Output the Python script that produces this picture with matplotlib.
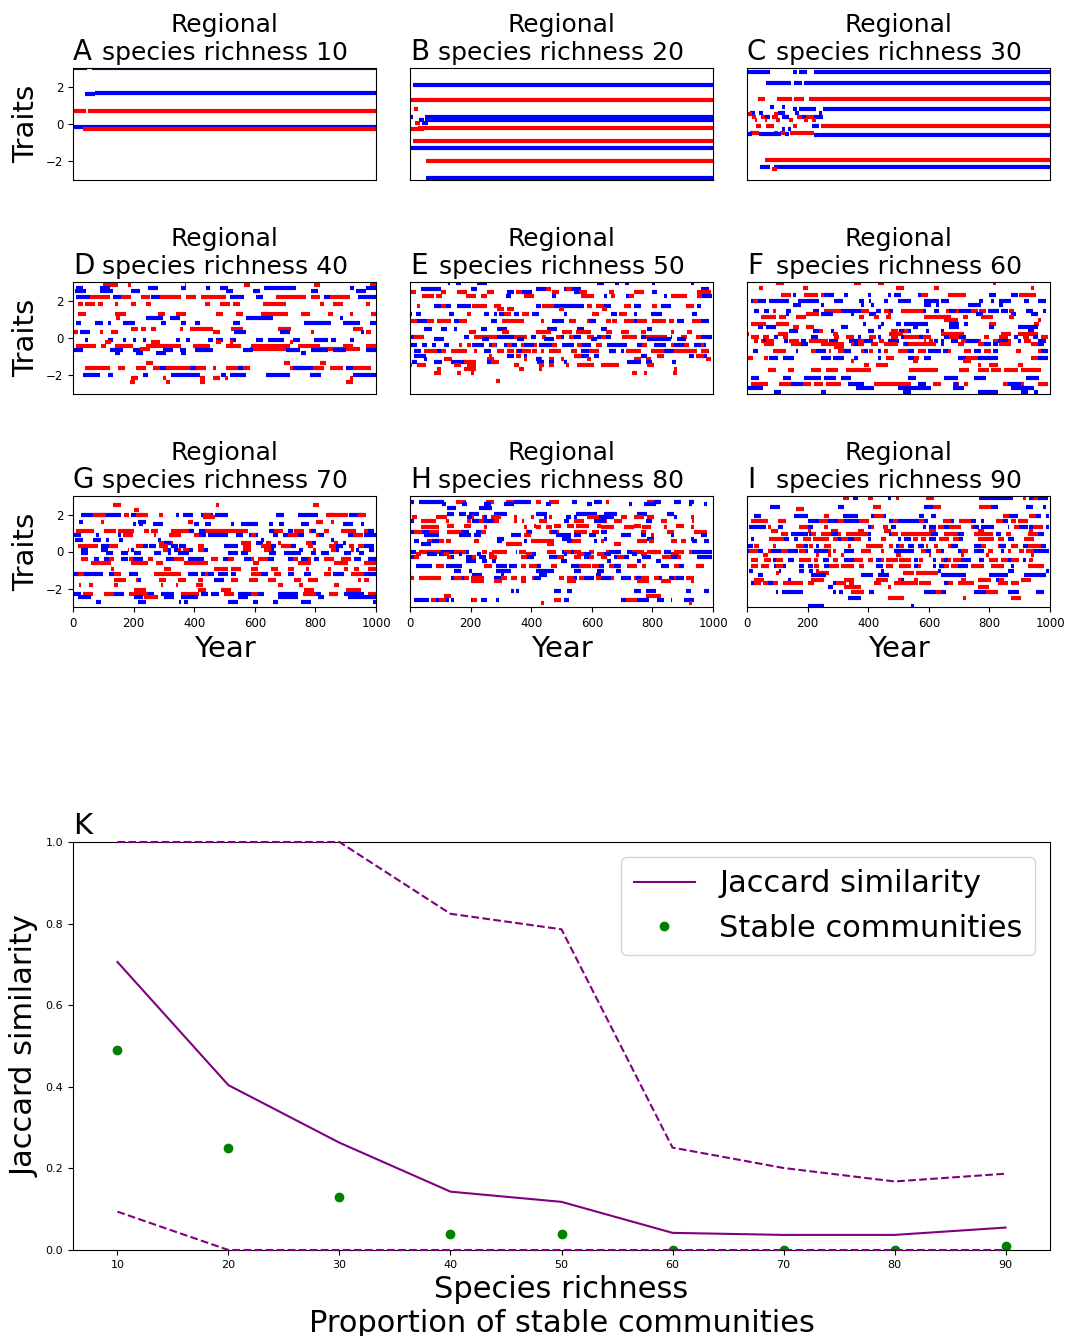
import matplotlib
matplotlib.use("Agg")
import matplotlib.pyplot as plt

plt.rcParams['font.family'] = ['DejaVu Sans']

# ---------------- data ----------------
panel_letters = ["A", "B", "C", "D", "E", "F", "G", "H", "I"]
panel_richness = [10, 20, 30, 40, 50, 60, 70, 80, 90]
year_ticks = [0, 200, 400, 600, 800, 1000]
trait_ticks = [-2, 0, 2]

# each entry: (colour, trait value, [(start year, end year), ...])
seg_A = [
    ("b", 2.99, [(0, 46), (64, 1000)]),
    ("b", 1.62, [(38, 71)]),
    ("b", 1.67, [(71, 1000)]),
    ("r", 0.70, [(0, 44), (49, 1000)]),
    ("b", -0.16, [(0, 1000)]),
    ("r", -0.27, [(33, 1000)]),
]

seg_B = [
    ("b", 2.11, [(10, 1000)]),
    ("r", 1.31, [(0, 1000)]),
    ("r", 0.82, [(14, 28)]),
    ("b", 0.40, [(0, 10), (50, 1000)]),
    ("b", 0.22, [(30, 45), (50, 1000)]),
    ("r", 0.08, [(18, 32)]),
    ("b", 0.04, [(40, 60)]),
    ("r", -0.25, [(0, 45)]),
    ("r", -0.20, [(25, 1000)]),
    ("r", -0.89, [(10, 1000)]),
    ("b", -1.28, [(0, 1000)]),
    ("r", -1.97, [(53, 1000)]),
    ("b", -2.90, [(52, 1000)]),
]

seg_C = [
    ("b", 2.79, [(0, 75), (152, 166), (173, 198), (222, 1000)]),
    ("b", 2.22, [(63, 145), (156, 180), (187, 1000)]),
    ("r", 1.35, [(37, 60), (98, 148), (156, 187), (204, 1000)]),
    ("b", 0.92, [(77, 88), (115, 125)]),
    ("b", 0.83, [(152, 166), (173, 227), (250, 1000)]),
    ("b", 0.60, [(11, 25), (39, 53), (103, 124), (159, 173), (236, 246)]),
    ("r", 0.55, [(4, 18), (89, 103)]),
    ("r", 0.39, [(15, 30), (46, 75), (82, 103), (124, 138), (166, 180), (194, 222)]),
    ("b", 0.39, [(60, 75), (117, 138), (180, 194), (222, 250)]),
    ("r", 0.21, [(25, 32), (58, 67), (96, 110), (138, 152), (187, 201), (215, 229)]),
    ("r", -0.12, [(30, 46), (63, 89), (152, 166), (243, 1000)]),
    ("b", -0.12, [(215, 236)]),
    ("b", -0.28, [(114, 124), (134, 145)]),
    ("r", -0.50, [(11, 39), (89, 103), (110, 124), (142, 222)]),
    ("b", -0.55, [(4, 18), (39, 82), (84, 112), (124, 138)]),
    ("b", -0.60, [(222, 1000)]),
    ("r", -1.92, [(60, 1000)]),
    ("b", -2.29, [(44, 75), (89, 1000)]),
    ("r", -2.42, [(82, 98)]),
]

seg_D = [
    ("r", 2.85, [(99, 148), (181, 192), (368, 374), (566, 583), (797, 814), (979, 1000)]),
    ("b", 2.70, [(11, 33), (88, 121), (247, 280), (357, 374), (440, 451), (484, 511), (632, 737), (913, 929), (968, 1000)]),
    ("b", 2.50, [(5, 44), (88, 132), (192, 220), (506, 528), (594, 616), (786, 808), (935, 968)]),
    ("r", 2.20, [(55, 121), (160, 192), (225, 253), (286, 357), (374, 407), (423, 506), (671, 770), (786, 814), (847, 913)]),
    ("b", 2.20, [(11, 55), (132, 160), (258, 286), (517, 566), (605, 627), (830, 847), (940, 1000)]),
    ("r", 1.82, [(16, 33), (38, 71), (82, 99), (137, 148), (192, 209), (242, 258), (434, 451), (484, 517), (528, 550), (627, 704), (814, 830), (858, 891), (968, 979)]),
    ("r", 1.30, [(16, 44), (137, 176), (280, 302), (341, 374), (473, 495), (539, 561), (621, 709), (753, 781), (841, 858), (913, 924), (984, 1000)]),
    ("b", 1.05, [(242, 297), (319, 352), (572, 660), (880, 891)]),
    ("r", 1.05, [(143, 154)]),
    ("b", 0.82, [(11, 27), (71, 99), (115, 126), (165, 203), (291, 308), (357, 374), (401, 418), (528, 550), (764, 852), (891, 946), (979, 1000)]),
    ("r", 0.50, [(192, 214), (225, 242), (258, 275), (352, 363), (385, 462), (522, 561), (676, 720), (924, 957)]),
    ("r", 0.30, [(2, 16), (88, 99), (126, 148), (462, 484), (786, 797), (968, 984)]),
    ("b", 0.30, [(22, 55), (533, 572), (682, 715), (951, 962)]),
    ("b", -0.10, [(38, 49), (115, 132), (165, 176), (198, 209), (231, 242), (341, 352), (374, 385), (445, 462), (473, 495), (517, 539), (605, 627), (643, 698), (726, 748), (797, 841), (852, 869), (913, 929)]),
    ("r", -0.22, [(104, 126), (258, 286), (473, 489), (517, 528), (715, 726)]),
    ("r", -0.43, [(11, 77), (93, 110), (137, 198), (242, 357), (396, 451), (506, 555), (588, 715), (742, 814), (891, 924), (968, 1000)]),
    ("r", -0.60, [(220, 253), (583, 704), (814, 946)]),
    ("b", -0.64, [(2, 33), (121, 165), (198, 220), (297, 330), (352, 374), (401, 462), (561, 594), (704, 748), (786, 841), (858, 902), (968, 1000)]),
    ("b", -0.82, [(137, 154), (209, 231), (275, 308), (357, 374), (753, 770)]),
    ("r", -1.36, [(242, 264), (698, 715), (814, 836)]),
    ("r", -1.59, [(38, 121), (148, 170), (209, 242), (264, 286), (308, 440), (462, 473), (506, 583), (715, 770), (792, 830), (847, 891), (924, 984)]),
    ("b", -1.59, [(286, 308), (385, 407), (544, 561), (726, 792), (902, 924)]),
    ("b", -1.98, [(33, 88), (115, 132), (231, 247), (324, 418), (489, 506), (517, 572), (638, 715), (781, 819), (924, 1000)]),
    ("r", -2.16, [(192, 214), (297, 308), (418, 434), (462, 484), (500, 511), (913, 924)]),
    ("r", -2.38, [(189, 203), (308, 319), (418, 434), (902, 924)]),
]

seg_E = [
    ("b", 2.95, [(124, 132), (151, 167), (222, 255), (618, 640), (678, 689), (711, 722), (800, 810), (926, 937)]),
    ("b", 2.65, [(35, 101), (200, 222), (415, 448), (508, 563), (959, 986)]),
    ("r", 2.65, [(448, 464), (514, 536)]),
    ("r", 2.47, [(2, 19), (101, 118), (156, 189), (255, 277), (349, 371), (470, 492), (558, 585), (657, 673), (739, 772), (948, 992)]),
    ("b", 2.47, [(321, 343), (371, 404), (541, 558), (800, 816)]),
    ("r", 2.26, [(41, 79), (85, 107), (184, 217), (233, 255), (376, 409), (563, 607), (662, 678), (723, 739), (860, 915), (948, 965)]),
    ("b", 2.26, [(316, 332), (470, 481), (640, 651), (712, 723), (838, 849), (965, 998)]),
    ("r", 1.72, [(22, 33), (101, 118), (206, 255), (277, 299), (437, 475), (585, 602), (613, 640), (706, 728), (800, 816), (910, 937)]),
    ("b", 1.72, [(79, 101), (118, 134), (156, 200), (415, 431), (475, 574), (640, 662), (739, 761), (827, 860), (948, 959)]),
    ("r", 1.56, [(288, 310), (321, 343), (492, 508), (635, 651)]),
    ("b", 1.26, [(2, 8), (19, 35), (129, 145), (244, 261), (277, 288), (294, 310), (343, 360), (404, 426), (508, 519), (662, 684), (739, 750), (794, 833), (932, 948)]),
    ("r", 1.26, [(189, 200), (310, 332), (371, 393), (602, 624), (690, 717)]),
    ("r", 0.92, [(2, 24), (57, 79), (90, 134), (162, 189), (305, 343), (343, 376), (431, 442), (525, 547), (585, 607), (646, 662), (668, 684), (706, 739), (750, 783), (800, 844), (855, 871), (932, 959)]),
    ("b", 0.92, [(24, 57), (145, 162), (266, 288), (470, 508), (591, 613), (739, 750), (882, 904), (959, 987)]),
    ("b", 0.48, [(46, 74), (101, 123), (145, 156), (233, 255), (288, 321), (453, 486), (552, 574), (629, 651), (783, 800)]),
    ("r", 0.30, [(195, 217), (305, 327), (415, 464), (503, 536), (547, 596), (646, 668), (695, 723), (761, 778), (860, 871), (915, 932)]),
    ("b", 0.03, [(0, 13), (178, 195), (288, 343), (398, 415), (497, 508), (541, 563), (618, 629), (646, 662), (761, 778), (860, 866), (959, 998)]),
    ("r", 0.03, [(13, 46), (211, 288), (343, 387), (437, 448), (481, 497), (525, 541), (585, 607), (629, 646), (701, 750), (778, 849), (893, 915), (943, 959)]),
    ("b", -0.07, [(79, 112), (239, 261), (354, 376), (442, 475), (596, 618), (783, 860), (882, 910)]),
    ("b", -0.37, [(0, 24), (41, 57), (74, 85), (112, 129), (206, 244), (261, 288), (310, 354), (376, 409), (426, 475), (503, 541), (563, 596), (651, 717), (750, 783), (805, 844), (866, 915), (937, 976)]),
    ("r", -0.37, [(162, 173), (189, 200), (272, 283), (321, 338), (365, 376), (409, 420), (470, 486), (552, 569), (613, 635), (767, 783), (860, 871), (904, 921), (959, 970)]),
    ("r", -0.67, [(46, 90), (96, 118), (134, 156), (156, 189), (211, 222), (288, 310), (321, 343), (349, 398), (404, 420), (431, 442), (459, 497), (530, 552), (591, 624), (657, 679), (712, 761), (794, 860), (871, 948), (959, 987)]),
    ("b", -0.67, [(13, 35), (90, 101), (244, 266), (354, 371), (563, 591), (657, 679), (695, 706), (838, 871)]),
    ("b", -0.96, [(13, 52), (321, 343), (376, 387), (541, 591), (607, 624), (761, 783), (921, 937), (954, 981)]),
    ("r", -0.96, [(261, 272), (349, 365), (541, 563), (816, 838), (943, 970)]),
    ("r", -1.12, [(112, 140), (255, 277), (376, 387), (415, 437), (459, 475), (497, 508), (585, 596), (739, 761), (778, 794), (976, 992)]),
    ("b", -1.12, [(46, 57), (415, 431)]),
    ("b", -1.31, [(8, 24), (79, 107), (134, 184), (255, 277), (420, 442), (459, 475), (508, 519), (717, 761), (778, 800), (866, 877)]),
    ("r", -1.31, [(178, 217), (266, 294)]),
    ("r", -1.44, [(0, 8), (24, 52), (145, 167), (189, 217), (343, 360), (426, 442), (459, 475), (514, 525), (552, 607), (629, 690), (783, 805)]),
    ("r", -1.67, [(90, 101), (178, 217), (360, 376), (426, 437), (871, 880)]),
    ("r", -1.88, [(79, 101), (156, 167), (200, 211), (734, 750), (772, 783), (869, 880)]),
    ("r", -2.33, [(283, 297)]),
]

seg_F = [
    ("r", 2.95, [(96, 123), (354, 376), (431, 453), (811, 822)]),
    ("r", 2.70, [(41, 52), (184, 200), (492, 519), (618, 635), (937, 948)]),
    ("r", 2.33, [(112, 145), (189, 233), (244, 261), (574, 596), (662, 723), (899, 954)]),
    ("b", 2.33, [(151, 162), (255, 288), (321, 332), (398, 409), (464, 475), (486, 508), (563, 574), (800, 822), (871, 893)]),
    ("b", 2.00, [(13, 63), (74, 140), (167, 239), (288, 316), (371, 387), (404, 409), (453, 464), (497, 541), (585, 635), (640, 668), (767, 778), (805, 816), (833, 871), (915, 932), (959, 987)]),
    ("r", 2.00, [(19, 35)]),
    ("b", 1.79, [(151, 178), (244, 255), (376, 387), (409, 420), (585, 607), (624, 635), (728, 772), (833, 844)]),
    ("r", 1.44, [(85, 96), (255, 310), (376, 404), (453, 475), (508, 580), (657, 668), (690, 701), (739, 761), (767, 789), (866, 882)]),
    ("b", 1.44, [(24, 41), (57, 74), (129, 145), (217, 239), (310, 376), (426, 442), (470, 481), (580, 591), (618, 635), (668, 690), (701, 739), (794, 833), (838, 860), (921, 943), (976, 987)]),
    ("b", 1.26, [(129, 140), (244, 283), (343, 354), (404, 426), (756, 778), (871, 888), (937, 959)]),
    ("r", 1.26, [(195, 239), (464, 475)]),
    ("r", 1.14, [(46, 68), (68, 96), (107, 129), (162, 195), (371, 387), (420, 437), (459, 475), (585, 673), (712, 728), (772, 811), (866, 882)]),
    ("r", 0.96, [(651, 695), (959, 970)]),
    ("r", 0.76, [(13, 35), (35, 63), (96, 140), (800, 822), (948, 965)]),
    ("b", 0.76, [(382, 393), (442, 453), (492, 508), (519, 596), (668, 701), (717, 728)]),
    ("b", 0.59, [(35, 52), (63, 96), (310, 332), (431, 442), (547, 563), (668, 701), (800, 816), (893, 959)]),
    ("r", 0.59, [(151, 173), (195, 222)]),
    ("b", 0.37, [(140, 167), (217, 239), (277, 288), (398, 420), (503, 541), (591, 602), (640, 651), (926, 948)]),
    ("r", 0.37, [(239, 250), (475, 497), (519, 530)]),
    ("r", 0.20, [(2, 8), (101, 134), (283, 299), (470, 514), (640, 673), (673, 717), (838, 871), (893, 959)]),
    ("r", 0.04, [(13, 41), (52, 74), (118, 134), (288, 305), (327, 354), (404, 426), (475, 497), (519, 607), (662, 701), (783, 800), (833, 860), (910, 932), (970, 992)]),
    ("b", 0.04, [(90, 101), (211, 233), (365, 376), (431, 442), (508, 519), (569, 580), (651, 668), (701, 723), (882, 893), (943, 959)]),
    ("r", -0.16, [(24, 35), (46, 90), (140, 173), (206, 266), (343, 387), (437, 453), (585, 591), (602, 613), (706, 723), (761, 772), (811, 827), (855, 871), (915, 937)]),
    ("b", -0.16, [(52, 63), (123, 134), (178, 195), (272, 299), (338, 365), (387, 415), (464, 503), (618, 629), (640, 651), (673, 695), (723, 767), (827, 860), (893, 904), (959, 987)]),
    ("r", -0.32, [(57, 90), (145, 184), (244, 321), (343, 354), (365, 387), (409, 431), (453, 497), (514, 624), (695, 717), (761, 789), (833, 871), (937, 959)]),
    ("b", -0.32, [(178, 200), (354, 365), (519, 530), (640, 651), (783, 805), (811, 827), (959, 981)]),
    ("r", -0.48, [(288, 321)]),
    ("r", -0.71, [(85, 129), (211, 228), (272, 277), (299, 343), (376, 387), (404, 415), (453, 464), (497, 530), (563, 591), (662, 673), (717, 739), (783, 805), (888, 904), (959, 987)]),
    ("b", -0.71, [(19, 35), (162, 167), (228, 261), (321, 343), (387, 398), (431, 442), (530, 552), (596, 640), (646, 662), (750, 772), (811, 827), (970, 992)]),
    ("b", -1.05, [(74, 101), (118, 156), (244, 277), (283, 321), (354, 365), (431, 442), (530, 552), (585, 607), (695, 723), (761, 783), (783, 827), (959, 992)]),
    ("r", -1.05, [(2, 19), (57, 68), (459, 486), (552, 569), (723, 761), (937, 959)]),
    ("r", -1.21, [(343, 354), (547, 563), (712, 739)]),
    ("r", -1.46, [(387, 404), (426, 464), (761, 772), (800, 827), (893, 910)]),
    ("r", -1.71, [(68, 96), (134, 156), (211, 244), (261, 299), (327, 409), (536, 629), (701, 734), (761, 800), (805, 838), (849, 893), (904, 970)]),
    ("b", -2.15, [(13, 41), (118, 145), (189, 244), (255, 294), (310, 343), (530, 558), (651, 695), (750, 789), (921, 965)]),
    ("r", -2.47, [(13, 68), (107, 129), (129, 145), (184, 211), (222, 250), (261, 310), (420, 541), (613, 640), (679, 701), (717, 728), (844, 860), (904, 915), (959, 992)]),
    ("b", -2.47, [(145, 184), (332, 387), (563, 591), (684, 695), (860, 904)]),
    ("b", -2.68, [(0, 52), (360, 420), (497, 607), (679, 717), (871, 948)]),
    ("b", -2.90, [(90, 112), (244, 261), (514, 541), (761, 827), (904, 926), (948, 959)]),
]

seg_G = [
    ("r", 2.54, [(131, 159), (472, 483), (791, 813)]),
    ("r", 2.24, [(202, 219)]),
    ("b", 1.95, [(26, 158), (191, 230), (340, 351), (362, 395), (422, 461), (467, 511), (670, 697), (741, 807), (840, 862), (912, 956)]),
    ("r", 1.95, [(65, 109), (169, 186), (208, 246), (285, 296), (428, 455), (835, 906), (939, 967)]),
    ("r", 1.85, [(428, 467)]),
    ("r", 1.58, [(92, 103), (378, 395), (802, 824), (851, 862)]),
    ("b", 1.58, [(21, 32), (214, 241)]),
    ("b", 1.46, [(197, 208), (219, 230), (263, 296), (400, 417), (434, 455), (521, 532), (554, 609), (648, 659), (681, 697), (752, 780), (890, 923), (951, 962)]),
    ("r", 1.12, [(10, 70), (103, 142), (147, 202), (235, 252), (257, 280), (323, 367), (367, 395), (434, 521), (521, 576), (659, 692), (730, 763), (780, 796), (829, 846), (884, 934), (961, 983)]),
    ("b", 1.12, [(384, 400), (417, 434), (648, 665), (708, 725), (785, 802), (972, 994)]),
    ("b", 0.89, [(2, 26), (76, 87), (147, 158), (180, 191), (323, 340), (417, 439), (445, 511), (538, 560), (582, 609), (659, 676), (692, 719), (741, 763), (807, 829), (906, 945), (961, 1000)]),
    ("r", 0.89, [(164, 197), (268, 274), (318, 356), (400, 417), (587, 604), (708, 741), (802, 813), (923, 956)]),
    ("b", 0.60, [(6, 32), (65, 92), (109, 120), (153, 164), (280, 290), (620, 631), (851, 862)]),
    ("r", 0.48, [(285, 329), (554, 587), (637, 653), (675, 686), (769, 791), (862, 873)]),
    ("b", 0.48, [(301, 323), (604, 626), (790, 801), (890, 901)]),
    ("r", 0.28, [(15, 37), (37, 59), (59, 81), (120, 147), (208, 230), (285, 312), (411, 433), (560, 587), (620, 653), (686, 719), (774, 791), (846, 868), (912, 928), (939, 961)]),
    ("b", 0.28, [(92, 120), (230, 246), (252, 274), (323, 345), (351, 373), (499, 543), (653, 670), (719, 736), (868, 890), (961, 994)]),
    ("r", 0.10, [(180, 186), (296, 312), (345, 356), (362, 384), (411, 433), (560, 587), (631, 653), (791, 802), (851, 868), (917, 928)]),
    ("b", 0.10, [(26, 48), (92, 114), (191, 202), (312, 323), (334, 345), (384, 395), (433, 444), (653, 665), (747, 758), (868, 879), (934, 945), (978, 994)]),
    ("b", -0.07, [(26, 48), (109, 131), (158, 180), (202, 224), (268, 290), (312, 323), (345, 384), (510, 543), (554, 576), (648, 670), (697, 719), (719, 752), (785, 802), (818, 846), (895, 917), (945, 961)]),
    ("b", -0.43, [(70, 87), (103, 120), (158, 180), (197, 230), (307, 334), (378, 433), (494, 511), (565, 587), (642, 665), (708, 725), (752, 774), (796, 813), (928, 950), (972, 1000)]),
    ("r", -0.43, [(26, 48), (120, 136), (186, 197), (246, 263), (334, 367), (455, 477), (511, 532), (587, 598), (609, 642), (725, 741), (774, 785), (829, 862), (884, 917)]),
    ("r", -0.64, [(59, 125), (191, 246), (274, 296), (367, 444), (593, 615), (741, 785), (862, 906), (961, 1000)]),
    ("r", -0.96, [(125, 136), (301, 323), (466, 510), (521, 554), (587, 609), (653, 675), (708, 730), (769, 780), (840, 851), (895, 906), (928, 945), (972, 1000)]),
    ("b", -1.20, [(2, 26), (37, 65), (65, 98), (120, 136), (186, 214), (378, 411), (422, 466), (477, 510), (521, 538), (620, 642), (708, 730), (763, 785), (857, 895), (961, 1000)]),
    ("r", -1.20, [(15, 37), (136, 158), (268, 296), (296, 356), (434, 444), (587, 620), (664, 686), (829, 851), (917, 961)]),
    ("r", -1.56, [(136, 175), (208, 214), (285, 307), (345, 373), (411, 428), (521, 543), (582, 609), (642, 670), (730, 752), (774, 807), (939, 950), (961, 978)]),
    ("b", -1.56, [(214, 224), (466, 499)]),
    ("r", -1.83, [(21, 26), (54, 65), (136, 147), (290, 296), (340, 345), (406, 428), (675, 692), (747, 758), (862, 879)]),
    ("r", -2.06, [(202, 241), (411, 439), (488, 521), (763, 796), (901, 950)]),
    ("r", -2.29, [(32, 65), (103, 136), (186, 230), (230, 246), (356, 417), (499, 532), (587, 609), (758, 802), (846, 873), (972, 1000)]),
    ("b", -2.29, [(4, 26), (136, 169), (246, 268), (290, 334), (422, 444), (455, 483), (543, 587), (609, 631), (675, 741), (802, 818), (895, 962)]),
    ("b", -2.45, [(15, 59), (202, 230), (301, 334), (356, 411), (543, 576), (675, 741), (807, 829), (906, 1000)]),
    ("r", -2.45, [(235, 280)]),
    ("b", -2.74, [(76, 92), (213, 241), (351, 356), (367, 378), (510, 543), (593, 609), (659, 675), (752, 785), (989, 1000)]),
]

seg_H = [
    ("r", 2.70, [(151, 184), (250, 277), (316, 343), (415, 431), (459, 492), (646, 657), (783, 822)]),
    ("b", 2.70, [(0, 13), (30, 112), (343, 398), (536, 552), (607, 635), (805, 827), (871, 893), (921, 937)]),
    ("b", 2.56, [(107, 118), (173, 189), (244, 266), (310, 343), (448, 464), (585, 602), (723, 734), (772, 811), (921, 932), (970, 981)]),
    ("b", 2.35, [(123, 151), (228, 272)]),
    ("b", 2.02, [(123, 145), (162, 184), (195, 228), (277, 321), (415, 453), (547, 618), (640, 684), (750, 783), (849, 871)]),
    ("r", 1.85, [(8, 24), (85, 123), (195, 211), (239, 250), (266, 299), (343, 354), (398, 409), (459, 470), (585, 651), (695, 717), (739, 772), (783, 805), (926, 937)]),
    ("b", 1.85, [(189, 206), (244, 255), (442, 453), (514, 530), (541, 552), (624, 673), (871, 882)]),
    ("r", 1.64, [(35, 85), (118, 129), (189, 200), (217, 222), (228, 261), (272, 294), (343, 354), (371, 376), (426, 453), (541, 574), (613, 651), (673, 701), (827, 849), (932, 937)]),
    ("b", 1.64, [(0, 13), (206, 228), (244, 277), (508, 525), (607, 646), (778, 800)]),
    ("r", 1.40, [(123, 145), (178, 200), (409, 415), (475, 497), (519, 541), (547, 591), (618, 629), (739, 761), (877, 904)]),
    ("r", 1.31, [(35, 57), (57, 96), (244, 255), (376, 387), (415, 431), (448, 470), (629, 673), (706, 739), (767, 794), (838, 849), (926, 937)]),
    ("r", 1.08, [(13, 41), (57, 96), (123, 167), (217, 250), (382, 398), (459, 492), (541, 585), (602, 624), (761, 778), (849, 871), (937, 981)]),
    ("b", 1.08, [(0, 13), (41, 63), (167, 195), (217, 233), (387, 404), (464, 486), (629, 651)]),
    ("b", 0.87, [(46, 96), (162, 200), (211, 233), (332, 365), (481, 530), (541, 563), (591, 613), (695, 728), (761, 778), (860, 871), (959, 981)]),
    ("r", 0.87, [(376, 398), (794, 805)]),
    ("b", 0.69, [(288, 310), (503, 530), (640, 651), (783, 805), (926, 937)]),
    ("r", 0.55, [(57, 112), (118, 134), (211, 228), (398, 475), (536, 563), (629, 640), (750, 783), (789, 805), (860, 882), (893, 910)]),
    ("b", 0.55, [(13, 30), (74, 96), (288, 305), (376, 387), (519, 536), (607, 618), (932, 948), (970, 987)]),
    ("r", 0.40, [(316, 371), (453, 475), (673, 695)]),
    ("b", 0.40, [(35, 68)]),
    ("r", 0.00, [(30, 68), (68, 101), (145, 184), (239, 255), (272, 321), (360, 382), (453, 481), (508, 563), (591, 607), (646, 657), (734, 772), (783, 827), (871, 904), (921, 932)]),
    ("b", 0.00, [(0, 19), (101, 145), (184, 195), (349, 354), (503, 508), (530, 541), (657, 695), (717, 734), (838, 860), (932, 998)]),
    ("r", -0.12, [(19, 35), (112, 129), (261, 277), (382, 404), (552, 574), (618, 640), (761, 783), (860, 888)]),
    ("b", -0.12, [(57, 90), (96, 112), (162, 173), (222, 233), (404, 415), (508, 519), (574, 596), (640, 662), (734, 750)]),
    ("r", -0.32, [(13, 30), (123, 134), (206, 217), (261, 288), (365, 387), (486, 508), (541, 563), (591, 607), (629, 651), (684, 706), (833, 860), (882, 893)]),
    ("b", -0.32, [(0, 13), (134, 145), (184, 206), (228, 250), (387, 409), (459, 486), (574, 591), (673, 684), (706, 723), (767, 794), (860, 882), (948, 998)]),
    ("b", -0.50, [(184, 217), (239, 255), (272, 283), (497, 519), (651, 662), (750, 761), (811, 827)]),
    ("r", -0.78, [(85, 112), (244, 272), (365, 382), (393, 431), (464, 486), (558, 596), (602, 624), (657, 695), (717, 750), (767, 778), (871, 888), (943, 970)]),
    ("b", -0.78, [(19, 74), (118, 156), (156, 173), (283, 321), (327, 354), (420, 431), (530, 558), (624, 640), (673, 695), (827, 855), (888, 904)]),
    ("b", -1.03, [(145, 167), (195, 206), (283, 332), (415, 475), (541, 563), (618, 640), (679, 695)]),
    ("b", -1.26, [(206, 239), (299, 310), (426, 453), (613, 629)]),
    ("r", -1.44, [(0, 13), (30, 52), (52, 101), (145, 173), (178, 195), (200, 244), (299, 321), (332, 354), (365, 382), (404, 409), (492, 508), (519, 541), (558, 574), (613, 629), (662, 673), (739, 789), (805, 822), (871, 882), (910, 937)]),
    ("b", -1.44, [(134, 145), (173, 178), (277, 299), (409, 431), (541, 552), (574, 607), (629, 662), (695, 728), (745, 761), (822, 833), (855, 871), (877, 904)]),
    ("r", -1.62, [(200, 244), (277, 305), (365, 382), (519, 547), (750, 789), (827, 860), (926, 937)]),
    ("b", -2.13, [(332, 343), (349, 360), (475, 497), (519, 536), (739, 761), (778, 811), (910, 926), (970, 987)]),
    ("r", -2.40, [(112, 134), (778, 827)]),
    ("b", -2.63, [(13, 63), (85, 96), (118, 129), (134, 145), (200, 206), (233, 255), (283, 294), (508, 525), (695, 712), (750, 789), (816, 838), (860, 866), (904, 937)]),
    ("r", -2.63, [(68, 85), (96, 118), (206, 222), (475, 497), (712, 750)]),
    ("r", -2.77, [(431, 442), (921, 932)]),
]

seg_I = [
    ("r", 2.90, [(316, 338), (398, 415), (492, 503), (591, 618), (910, 921), (937, 959)]),
    ("b", 2.90, [(349, 365), (464, 475), (767, 877), (932, 948), (959, 992)]),
    ("b", 2.42, [(77, 110), (299, 321), (585, 613), (805, 827), (921, 943), (976, 987)]),
    ("r", 2.42, [(415, 442), (613, 640), (767, 805)]),
    ("r", 2.30, [(162, 189)]),
    ("b", 1.94, [(24, 46), (156, 200), (316, 365), (409, 420), (453, 459), (569, 585), (607, 624), (866, 893), (954, 970), (987, 998)]),
    ("r", 1.94, [(255, 272), (420, 453), (844, 866), (932, 954)]),
    ("r", 1.64, [(13, 68), (101, 129), (239, 266), (299, 321), (371, 404), (481, 497), (569, 585), (646, 673), (701, 739), (822, 844), (871, 888), (893, 926)]),
    ("b", 1.64, [(200, 239), (266, 299), (321, 371), (470, 481), (497, 569), (585, 596), (673, 684), (739, 756), (772, 783), (844, 860)]),
    ("b", 1.31, [(8, 63), (101, 118), (200, 217), (398, 409), (475, 492), (580, 591), (602, 624), (651, 668), (745, 767), (772, 816), (860, 866), (899, 926), (932, 943), (987, 998)]),
    ("r", 1.31, [(68, 79), (173, 200), (255, 266), (409, 420), (448, 464), (629, 651), (668, 706), (739, 745), (882, 899), (943, 976)]),
    ("r", 1.10, [(79, 101), (200, 211), (277, 299), (365, 387), (453, 475), (602, 624), (761, 783), (932, 943)]),
    ("r", 0.96, [(112, 134), (211, 228), (244, 277), (299, 310), (327, 398), (475, 497), (508, 607), (651, 695), (750, 811), (855, 871), (926, 959)]),
    ("b", 0.96, [(145, 200), (206, 211), (277, 299), (398, 409), (470, 475), (607, 629), (695, 717), (822, 838), (959, 981)]),
    ("r", 0.69, [(74, 123), (184, 211), (217, 272), (283, 299), (310, 332), (354, 376), (442, 459), (547, 563), (574, 591), (635, 668), (679, 701), (761, 816), (827, 849), (915, 948)]),
    ("b", 0.69, [(13, 24), (123, 140), (156, 167), (299, 310), (332, 354), (398, 409), (497, 508), (519, 541), (602, 624), (701, 712), (860, 882)]),
    ("r", 0.28, [(24, 41), (85, 96), (162, 189), (206, 217), (255, 277), (332, 343), (393, 448), (470, 481), (503, 519), (563, 580), (591, 596), (618, 629), (662, 684), (772, 789), (827, 855), (871, 893), (926, 970)]),
    ("b", 0.28, [(0, 19), (189, 200), (228, 239), (492, 503), (530, 552), (563, 585), (673, 695), (750, 772), (833, 855), (910, 926), (970, 987)]),
    ("r", 0.04, [(8, 35), (68, 79), (112, 134), (173, 195), (266, 277), (283, 294), (376, 409), (442, 453), (574, 591), (624, 640), (706, 728), (794, 811), (860, 871), (899, 915), (921, 948)]),
    ("b", 0.04, [(0, 8), (35, 52), (79, 112), (134, 167), (195, 200), (222, 266), (321, 354), (486, 519), (519, 552), (591, 607), (640, 651), (695, 706), (750, 783), (838, 849), (948, 998)]),
    ("r", -0.20, [(52, 68), (228, 239), (266, 277), (310, 321), (492, 508), (602, 607), (706, 717), (789, 800), (937, 948)]),
    ("r", -0.46, [(13, 35), (57, 79), (96, 118), (173, 211), (222, 233), (283, 299), (354, 382), (398, 415), (442, 453), (459, 497), (503, 541), (569, 580), (640, 673), (679, 706), (800, 827), (838, 860), (871, 899), (932, 943)]),
    ("b", -0.46, [(85, 96), (134, 156), (250, 272), (321, 354), (426, 442), (552, 563), (613, 624), (651, 662), (706, 739), (767, 783), (860, 871), (910, 921)]),
    ("r", -0.78, [(13, 35), (46, 74), (96, 118), (222, 239), (272, 305), (310, 354), (371, 387), (459, 481), (503, 541), (563, 574), (640, 668), (673, 695), (739, 783), (805, 849), (926, 981)]),
    ("b", -0.78, [(90, 96), (118, 129), (173, 189), (200, 217), (255, 272), (426, 448), (552, 563), (613, 624), (635, 651), (695, 728), (871, 882)]),
    ("b", -1.03, [(8, 19), (107, 112), (173, 189), (206, 217), (442, 453), (629, 640), (860, 882), (987, 998)]),
    ("r", -1.03, [(228, 239)]),
    ("r", -1.14, [(96, 107), (239, 272), (514, 552), (558, 629)]),
    ("b", -1.26, [(35, 52), (211, 261), (376, 415), (431, 470), (640, 723), (800, 860), (915, 987)]),
    ("r", -1.53, [(24, 57), (211, 255), (321, 354), (426, 464), (497, 508), (552, 563), (706, 723), (761, 805), (827, 849), (904, 937)]),
    ("b", -1.53, [(134, 145), (508, 519), (822, 833)]),
    ("r", -1.71, [(13, 46), (52, 79), (79, 101), (118, 156), (156, 184), (200, 222), (294, 327), (338, 354), (420, 442), (486, 563), (569, 607), (662, 679), (695, 750), (827, 860), (871, 899)]),
    ("b", -1.71, [(13, 24), (68, 85), (283, 294), (651, 662)]),
    ("r", -1.92, [(321, 376), (464, 475), (761, 800)]),
    ("b", -1.92, [(266, 283)]),
    ("b", -2.19, [(96, 101), (114, 184), (283, 294), (305, 316), (404, 420), (585, 624), (640, 657), (750, 789), (860, 899), (954, 981)]),
    ("r", -2.19, [(343, 387), (624, 640), (789, 827)]),
    ("r", -2.54, [(464, 519), (712, 723), (871, 904)]),
    ("b", -2.54, [(332, 376)]),
    ("b", -2.95, [(200, 255), (541, 552)]),
]

panel_segments = [seg_A, seg_B, seg_C, seg_D, seg_E, seg_F, seg_G, seg_H, seg_I]

# Panel K
richness = [10, 20, 30, 40, 50, 60, 70, 80, 90]
jaccard_mean = [0.706, 0.404, 0.263, 0.143, 0.118, 0.042, 0.037, 0.037, 0.055]
jaccard_upper = [1.0, 1.0, 1.0, 0.824, 0.786, 0.251, 0.201, 0.168, 0.187]
jaccard_lower = [0.094, 0.0, 0.0, 0.0, 0.0, 0.0, 0.0, 0.0, 0.0]
stable_prop = [0.49, 0.249, 0.129, 0.039, 0.039, 0.0, 0.0, 0.0, 0.010]

# ---------------- figure ----------------
W, H = 1067, 1336
fig = plt.figure(figsize=(W / 100, H / 100), dpi=100)


def add_ax(x0, y0, x1, y1):
    return fig.add_axes([x0 / W, 1 - y1 / H, (x1 - x0) / W, (y1 - y0) / H])


col_px = [(73, 376), (410, 713), (747, 1050)]
row_px = [(68, 180), (282, 394), (496, 607)]
colour_map = {"r": "#ff0000", "b": "#0000ff"}

for i, segs in enumerate(panel_segments):
    r, c = divmod(i, 3)
    ax = add_ax(col_px[c][0], row_px[r][0], col_px[c][1], row_px[r][1])
    for col, trait, spans in segs:
        starts = [s for s, e in spans]
        ends = [e for s, e in spans]
        ax.hlines([trait] * len(spans), starts, ends, colors=colour_map[col],
                  linewidth=3.0, capstyle="butt")
    ax.set_xlim(0, 1000)
    ax.set_ylim(-3, 3)
    ax.set_title("Regional\nspecies richness %d" % panel_richness[i], fontsize=18)
    ax.set_title(panel_letters[i], loc="left", fontsize=20)
    if c == 0:
        ax.set_yticks(trait_ticks)
        ax.tick_params(axis="y", labelsize=8.5)
        ax.set_ylabel("Traits", fontsize=21)
    else:
        ax.set_yticks([])
    if r == 2:
        ax.set_xticks(year_ticks)
        ax.tick_params(axis="x", labelsize=8.5)
        ax.set_xlabel("Year", fontsize=21)
    else:
        ax.set_xticks([])

axk = add_ax(73, 842, 1050, 1250)
axk.plot(richness, jaccard_mean, color="purple", linewidth=1.5, label="Jaccard similarity")
axk.plot(richness, jaccard_upper, color="purple", linewidth=1.5, linestyle="--",
         clip_on=False, zorder=3)
axk.plot(richness, jaccard_lower, color="purple", linewidth=1.5, linestyle="--",
         clip_on=False, zorder=3)
axk.plot(richness, stable_prop, "o", color="green", markersize=6, label="Stable communities")
axk.set_ylim(0, 1)
axk.set_xticks(richness)
axk.tick_params(labelsize=8)
axk.set_ylabel("Jaccard similarity", fontsize=22)
axk.set_xlabel("Species richness\nProportion of stable communities", fontsize=22)
axk.set_title("K", loc="left", fontsize=21)
axk.legend(loc="upper right", fontsize=22)

fig.savefig("out.png", dpi=100)
